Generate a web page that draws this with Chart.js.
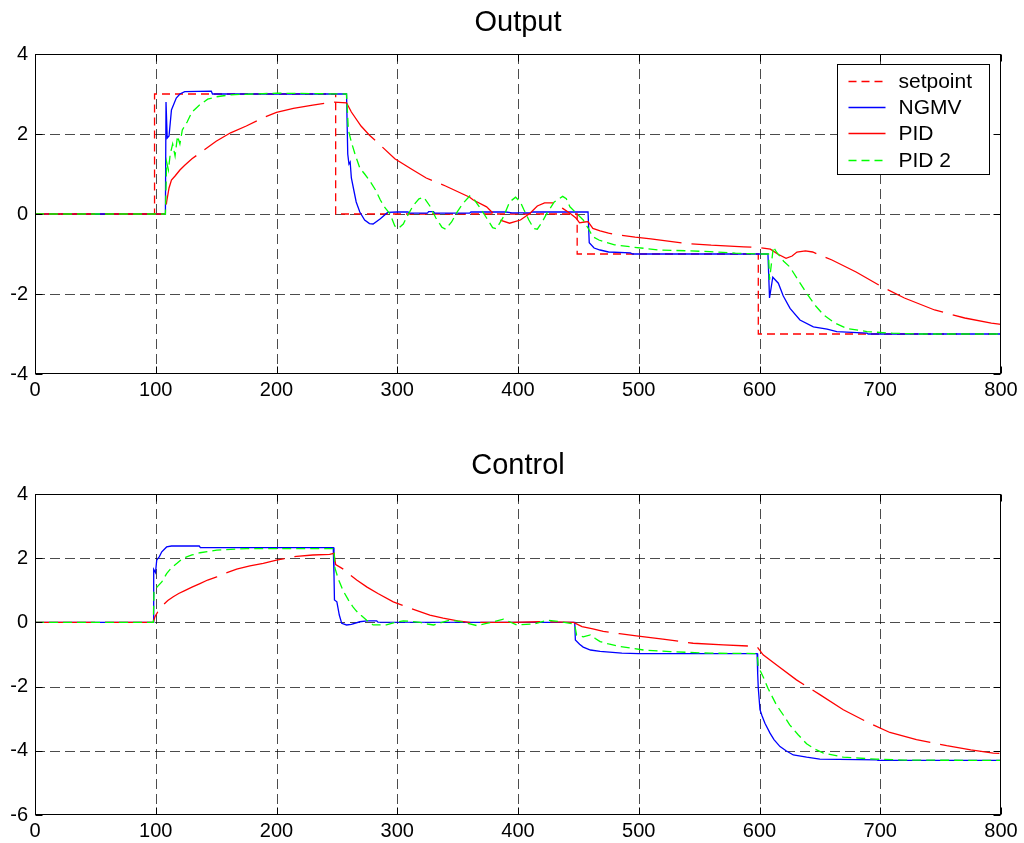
<!DOCTYPE html>
<html>
<head>
<meta charset="utf-8">
<title>Output / Control</title>
<script src="https://cdn.jsdelivr.net/npm/chart.js@4.4.1/dist/chart.umd.min.js"></script>
<style>
  html, body { margin: 0; padding: 0; background: #fff; overflow: hidden; }
  #wrap { position: relative; width: 1024px; height: 843px; }
  canvas { position: absolute; left: 0; }
</style>
</head>
<body>
<div id="wrap">
  <canvas id="outChart" width="1024" height="440" style="top:0"></canvas>
  <canvas id="ctlChart" width="1024" height="403" style="top:440px"></canvas>
</div>
<script>
// ---- time axis and tick values ----
const timeTicks = [0, 100, 200, 300, 400, 500, 600, 700, 800];
const outYTicks = [-4, -2, 0, 2, 4];
const ctlYTicks = [-6, -4, -2, 0, 2, 4];

// ---- Output plot: [time, value] samples ----
const setpointOut = [[0,0],[99,0],[99,3],[249,3],[249,0],[449,0],[449,-1],[599,-1],[599,-3],[800,-3]];

const ngmvOut = [[0,0],[108,0],[108.5,2.8],[109.5,1.9],[111,1.95],[113,2.6],[117,2.9],[120,3.0],[124,3.06],
  [146,3.07],[147,3.0],[258,3.0],[259,1.5],[260,1.25],[261,1.3],[262,0.9],[264,0.6],[266,0.3],[269,0.05],
  [273,-0.15],[277,-0.24],[280,-0.25],[286,-0.12],[292,0.04],[300,0.05],[309,0.05],[310,0.02],[325,0.02],
  [326,0.06],[330,0.06],[331,0.02],[360,0.02],[361,0.05],[390,0.05],[395,0.03],[410,0.03],[412,0.05],
  [440,0.05],[458,0.05],[459,-0.72],[463,-0.85],[468,-0.9],[475,-0.95],[493,-0.97],[495,-1.0],[607,-1.0],
  [608.3,-2.1],[611,-1.58],[615.6,-1.73],[619.7,-2.05],[625.3,-2.36],[633.5,-2.65],[644.6,-2.82],
  [656,-2.88],[664,-2.94],[689,-2.98],[690,-3.0],[800,-3.0]];

const pidOut = [[0,0],[108,0],[109,0.3],[111,0.65],[113,0.85],[116,0.95],[120,1.1],[124,1.22],[130,1.38],
  [140,1.6],[150,1.82],[162,2.03],[175,2.2],[190,2.42],[200,2.54],[214,2.64],[230,2.72],[247,2.8],[258,2.78],
  [262,2.55],[270,2.2],[277,1.97],[285,1.75],[298,1.38],[312,1.12],[324,0.9],[340,0.7],[360,0.42],[363,0.35],
  [374,0.18],[380,0.0],[385,-0.15],[393,-0.23],[402,-0.15],[410,0.02],[416,0.2],[422,0.28],[429,0.28],
  [437,0.14],[443,0.02],[448,-0.1],[451,-0.22],[455,-0.2],[458,-0.19],[462,-0.36],[468,-0.42],[475,-0.48],
  [483,-0.52],[497,-0.58],[510,-0.62],[537,-0.73],[560,-0.78],[587,-0.82],[600,-0.84],[609,-0.88],
  [615,-1.0],[622,-1.11],[627,-1.05],[631,-0.95],[638,-0.92],[644,-0.95],[660,-1.15],[680,-1.45],
  [702,-1.83],[720,-2.1],[745,-2.4],[770,-2.6],[792,-2.73],[800,-2.76]];

const pid2Out = [[0,0],[108,0],[109,1.3],[110.5,1.1],[112,1.5],[114,1.75],[116,1.45],[118,1.95],[120,1.75],
  [122,2.1],[126,2.3],[130,2.55],[136,2.72],[143,2.87],[150,2.93],[162,2.98],[180,3.0],[200,3.02],[258,3.0],
  [259.5,2.1],[262,1.8],[265,1.5],[269,1.15],[273,1.0],[277,0.84],[282,0.6],[286,0.35],[290,0.15],[294,0.0],
  [298,-0.3],[301,-0.36],[305,-0.25],[308,-0.07],[313,0.2],[318,0.38],[322,0.42],[327,0.2],[332,-0.1],
  [337,-0.33],[340,-0.38],[345,-0.2],[349,0.02],[354,0.25],[360,0.45],[364,0.35],[368,0.18],[374,-0.1],
  [379,-0.34],[382,-0.37],[388,-0.07],[393,0.3],[398,0.42],[402,0.3],[405,0.1],[409,-0.15],[413,-0.36],
  [416,-0.38],[420,-0.2],[424,0.02],[430,0.3],[437,0.44],[440,0.38],[443,0.18],[449,0.0],[454,-0.15],
  [458,-0.35],[462,-0.57],[467,-0.65],[473,-0.71],[480,-0.77],[493,-0.82],[517,-0.9],[540,-0.92],
  [559,-0.94],[580,-0.98],[600,-1.0],[607.5,-1.0],[608.3,-1.65],[611.5,-0.82],[614,-0.95],[620,-1.18],
  [625,-1.32],[632,-1.65],[639,-1.98],[646,-2.28],[653,-2.52],[662,-2.72],[672,-2.86],[689,-2.94],
  [710,-2.98],[730,-3.0],[800,-3.0]];

// ---- Control plot: [time, value] samples ----
const ngmvCtl = [[0,0],[98,0],[98.3,1.65],[99.8,1.55],[100.8,1.94],[103,2.05],[105,2.2],[109,2.35],[113,2.38],
  [136,2.38],[137,2.33],[247,2.33],[247.6,1.5],[248,0.7],[250,0.64],[252,0.23],[254,-0.03],[258,-0.08],
  [262,-0.06],[269,0.02],[275,0.05],[283,0.05],[284,0.01],[447,0.0],[447.5,-0.55],[451,-0.68],[454,-0.77],
  [460,-0.86],[468,-0.9],[486,-0.96],[500,-0.97],[598,-0.97],[598.5,-1.6],[599,-2.05],[600.4,-2.72],
  [602,-2.9],[604.5,-3.14],[608.7,-3.45],[612,-3.65],[617,-3.87],[622,-4.0],[628,-4.13],[639,-4.2],
  [650,-4.26],[697,-4.28],[698,-4.3],[800,-4.3]];

const pidCtl = [[0,0],[98,0],[99.4,0.18],[102,0.35],[106,0.54],[110,0.68],[114.5,0.8],[119,0.9],[124,0.99],
  [130,1.1],[136.6,1.21],[143,1.32],[150.5,1.42],[158,1.54],[167,1.66],[178,1.76],[189,1.84],[200,1.94],
  [216.7,2.06],[230,2.1],[244,2.12],[247.6,2.15],[249,1.8],[256.7,1.63],[261,1.48],[266.4,1.32],[275,1.1],
  [284,0.9],[296.7,0.64],[310,0.45],[327,0.23],[338,0.13],[350,0.05],[360,0.0],[396,0.0],[418,0.02],
  [446,0.0],[453,-0.13],[462,-0.2],[470.6,-0.28],[484,-0.35],[498,-0.42],[520,-0.52],[545,-0.65],
  [570,-0.7],[593.5,-0.74],[598,-0.76],[603,-1.01],[615,-1.35],[630.6,-1.79],[650,-2.25],[669.4,-2.72],
  [690,-3.12],[708,-3.43],[730,-3.65],[755,-3.84],[775,-3.97],[793.6,-4.07],[800,-4.08]];

const pid2Ctl = [[0,0],[98,0],[98.5,0.95],[101,1.1],[105,1.26],[109,1.52],[113,1.7],[117.6,1.84],[121,1.95],
  [125.6,2.04],[130,2.1],[136.6,2.17],[150.5,2.25],[175,2.3],[247.6,2.3],[248.4,1.7],[251,1.37],[255,1.0],
  [259.5,0.7],[263,0.5],[266,0.36],[270,0.22],[274.7,0.07],[280,-0.08],[291,-0.08],[298,0.0],[305,0.05],
  [312,0.03],[319,0.0],[325,-0.05],[330,-0.08],[337,0.0],[344,0.07],[350,0.04],[355,0.0],[366,-0.1],
  [373,-0.04],[380,0.02],[388,0.1],[393,0.02],[399,-0.08],[413,-0.05],[418,0.0],[424,0.07],[435,0.02],
  [446,-0.05],[447,-0.08],[448.5,-0.39],[454,-0.45],[460,-0.39],[464,-0.5],[468,-0.6],[475,-0.67],
  [484.5,-0.75],[495,-0.81],[504,-0.86],[526,-0.91],[559,-0.96],[598,-0.97],[599,-1.38],[603,-1.69],
  [607,-2.05],[614,-2.57],[620,-2.9],[625,-3.19],[632,-3.5],[639,-3.78],[646,-3.95],[653,-4.07],
  [669.4,-4.2],[697,-4.26],[720,-4.29],[800,-4.3]];

// ---- styling ----
const FONT = 'Liberation Sans, Arial, Helvetica, sans-serif';
const RED = 'rgb(255,0,0)', BLUE = 'rgb(0,0,255)', GREEN = 'rgb(0,255,0)';
const LINE_W = 1.3;
const legendLabels = ['setpoint', 'NGMV', 'PID', 'PID 2'];
const legendColors = [RED, BLUE, RED, GREEN];
const legendDashed = [true, false, false, true];

const toXY = pairs => pairs.map(([x, y]) => ({ x, y }));

function series(label, pairs, color, dash, order) {
  return {
    label, data: toXY(pairs), borderColor: color, backgroundColor: color,
    borderWidth: LINE_W, borderDash: dash, pointRadius: 0, tension: 0, fill: false, order
  };
}

function drawLegend(ctx, a) {
  const bw = 152, bh = 110;
  const bx = Math.round(a.right) - 164 + 0.5, by = Math.round(a.top) + 10 + 0.5;
  ctx.save();
  ctx.setLineDash([]);
  ctx.fillStyle = '#ffffff';
  ctx.fillRect(bx, by, bw, bh);
  ctx.lineWidth = 1;
  ctx.strokeStyle = '#000000';
  ctx.strokeRect(bx, by, bw, bh);
  ctx.font = '21px ' + FONT;
  ctx.textBaseline = 'middle';
  ctx.textAlign = 'left';
  for (let i = 0; i < legendLabels.length; i++) {
    const ry = Math.round(by + 16 + i * 26.4) + 0.5;
    ctx.beginPath();
    ctx.lineWidth = LINE_W;
    ctx.setLineDash(legendDashed[i] ? [8, 5] : []);
    ctx.strokeStyle = legendColors[i];
    ctx.moveTo(bx + 11, ry);
    ctx.lineTo(bx + 48, ry);
    ctx.stroke();
    ctx.setLineDash([]);
    ctx.fillStyle = '#000000';
    ctx.fillText(legendLabels[i], bx + 61, ry + 1);
  }
  ctx.restore();
}

// Dashed grid, framed box with inward ticks, boxed legend and title
const framePlugin = {
  id: 'frame',
  beforeDatasetsDraw(chart) {
    const { ctx, chartArea: a, scales: { x, y } } = chart;
    ctx.save();
    ctx.strokeStyle = 'rgba(0,0,0,0.7)';
    ctx.lineWidth = 1;
    ctx.setLineDash([10, 5]);
    x.ticks.forEach(t => {
      if (t.value <= x.min || t.value >= x.max) return;
      const px = Math.round(x.getPixelForValue(t.value)) + 0.5;
      ctx.beginPath(); ctx.moveTo(px, a.top); ctx.lineTo(px, a.bottom); ctx.stroke();
    });
    y.ticks.forEach(t => {
      if (t.value <= y.min || t.value >= y.max) return;
      const py = Math.round(y.getPixelForValue(t.value)) + 0.5;
      ctx.beginPath(); ctx.moveTo(a.left, py); ctx.lineTo(a.right, py); ctx.stroke();
    });
    ctx.restore();
  },
  afterDatasetsDraw(chart, args, opts) {
    const { ctx, chartArea: a, scales: { x, y } } = chart;
    ctx.save();
    ctx.strokeStyle = '#000';
    ctx.lineWidth = 1;
    ctx.setLineDash([]);
    const L = Math.round(a.left) + 0.5, R = Math.round(a.right) - 0.5;
    const T = Math.round(a.top) + 0.5, B = Math.round(a.bottom) - 0.5;
    ctx.strokeRect(L, T, R - L, B - T);
    const tl = 7;
    ctx.beginPath();
    x.ticks.forEach(t => {
      const px = Math.round(x.getPixelForValue(t.value)) + 0.5;
      ctx.moveTo(px, B); ctx.lineTo(px, B - tl);
      ctx.moveTo(px, T); ctx.lineTo(px, T + tl);
    });
    y.ticks.forEach(t => {
      const py = Math.round(y.getPixelForValue(t.value)) + 0.5;
      ctx.moveTo(L, py); ctx.lineTo(L + tl, py);
      ctx.moveTo(R, py); ctx.lineTo(R - tl, py);
    });
    ctx.stroke();
    ctx.restore();
    if (opts.legend) drawLegend(ctx, a);
  },
  afterDraw(chart, args, opts) {
    const { ctx, chartArea: a } = chart;
    ctx.save();
    ctx.font = opts.titleSize + 'px ' + FONT;
    ctx.fillStyle = '#000';
    ctx.textAlign = 'center';
    ctx.textBaseline = 'middle';
    ctx.fillText(opts.title, (a.left + a.right) / 2, opts.titleY);
    ctx.restore();
  }
};

function scales(yTicks, xAxisHeight) {
  const tickFont = { family: FONT, size: 20 };
  return {
    x: {
      type: 'linear', position: 'bottom', min: 0, max: 800,
      afterBuildTicks: s => { s.ticks = timeTicks.map(v => ({ value: v })); },
      ticks: { color: '#000', font: tickFont, padding: 4, maxRotation: 0, autoSkip: false },
      grid: { display: false, drawTicks: false },
      border: { display: false },
      afterFit: s => { s.height = xAxisHeight; s.paddingLeft = 0; s.paddingRight = 0; }
    },
    y: {
      type: 'linear', position: 'left', min: yTicks[0], max: yTicks[yTicks.length - 1],
      afterBuildTicks: s => { s.ticks = yTicks.map(v => ({ value: v })); },
      ticks: { color: '#000', font: tickFont, padding: 7, autoSkip: false },
      grid: { display: false, drawTicks: false },
      border: { display: false },
      afterFit: s => { s.width = 35; s.paddingTop = 0; s.paddingBottom = 0; }
    }
  };
}

function baseOptions(yTicks, xAxisHeight, frameOpts) {
  return {
    responsive: false,
    animation: false,
    events: [],
    layout: { padding: { top: 54, right: 23, bottom: 0, left: 0 } },
    scales: scales(yTicks, xAxisHeight),
    plugins: { legend: { display: false }, tooltip: { enabled: false }, frame: frameOpts }
  };
}

new Chart(document.getElementById('outChart'), {
  type: 'line',
  data: {
    datasets: [
      series('setpoint', setpointOut, RED, [8, 5], 4),
      series('NGMV', ngmvOut, BLUE, [], 3),
      series('PID', pidOut, RED, [60, 10], 2),
      series('PID 2', pid2Out, GREEN, [9, 5], 1)
    ]
  },
  options: baseOptions(outYTicks, 66, { title: 'Output', titleY: 23, titleSize: 29, legend: true }),
  plugins: [framePlugin]
});

new Chart(document.getElementById('ctlChart'), {
  type: 'line',
  data: {
    datasets: [
      series('NGMV', ngmvCtl, BLUE, [], 3),
      series('PID', pidCtl, RED, [60, 10], 2),
      series('PID 2', pid2Ctl, GREEN, [9, 5], 1)
    ]
  },
  options: baseOptions(ctlYTicks, 28, { title: 'Control', titleY: 26, titleSize: 29, legend: false }),
  plugins: [framePlugin]
});
</script>
</body>
</html>
